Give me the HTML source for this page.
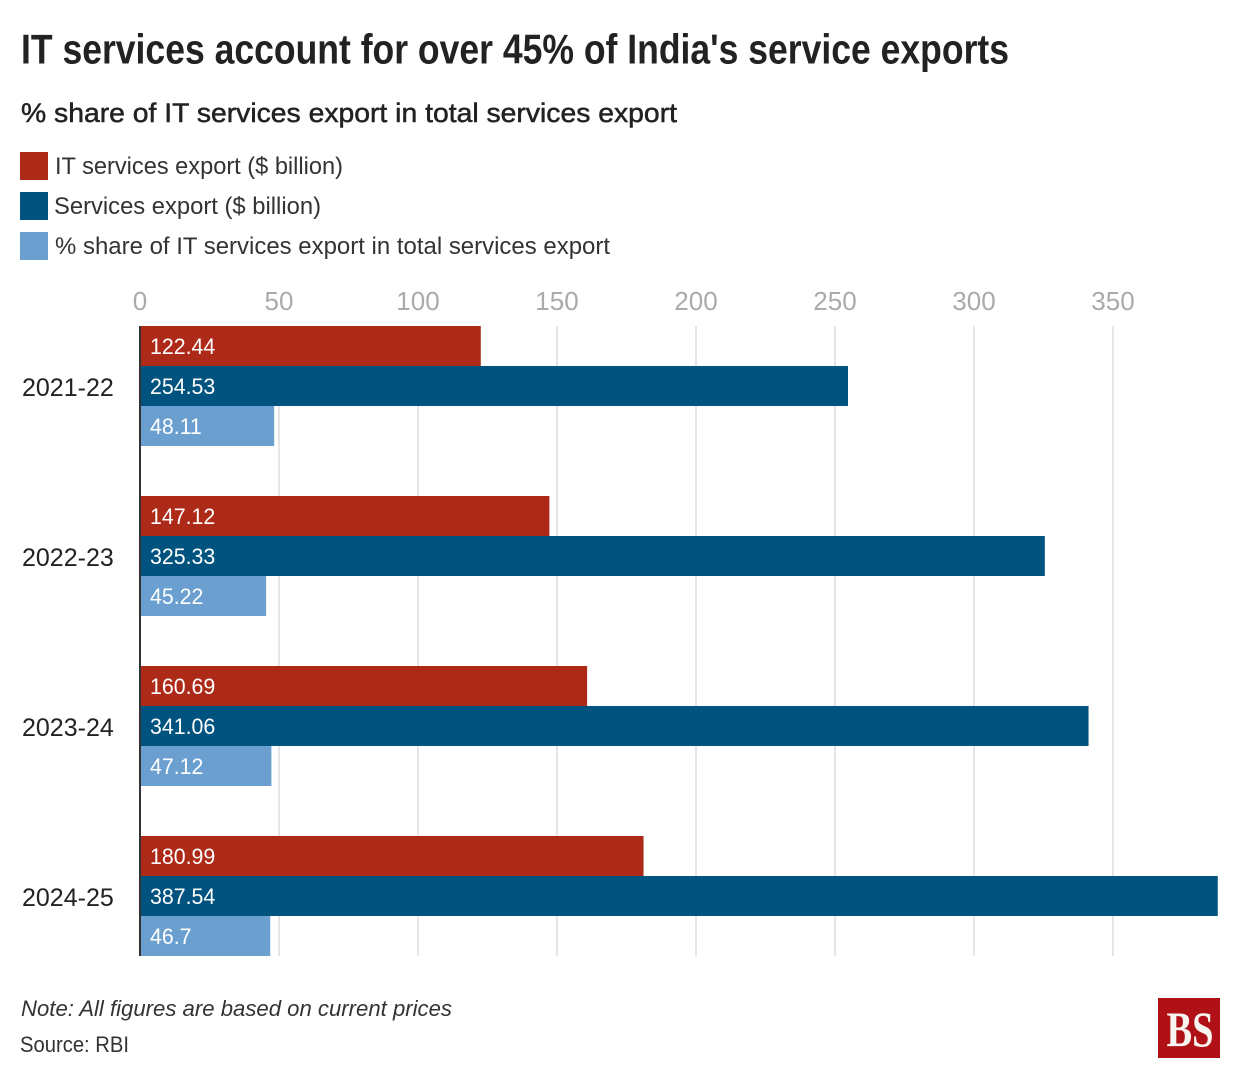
<!DOCTYPE html>
<html>
<head>
<meta charset="utf-8">
<title>IT services share of India's service exports</title>
<style>
html,body{margin:0;padding:0;background:#fff;}
svg{display:block;font-family:"Liberation Sans",sans-serif;}
</style>
</head>
<body>
<svg id="chart" width="1240" height="1080" viewBox="0 0 1240 1080" xmlns="http://www.w3.org/2000/svg">
  <rect x="0" y="0" width="1240" height="1080" fill="#ffffff"/>
  <text x="21" y="63.5" font-size="42" font-weight="700" fill="#222222" textLength="988" lengthAdjust="spacingAndGlyphs">IT services account for over 45% of India's service exports</text>
  <text x="21" y="122" font-size="27" fill="#222222" stroke="#222222" stroke-width="0.5" textLength="656" lengthAdjust="spacingAndGlyphs">% share of IT services export in total services export</text>

  <g>
    <rect x="20" y="152" width="28" height="28" fill="#ae2a18"/>
    <text x="55" y="174" font-size="24" fill="#333333" textLength="288" lengthAdjust="spacingAndGlyphs">IT services export ($ billion)</text>
    <rect x="20" y="192" width="28" height="28" fill="#00537f"/>
    <text x="54" y="214" font-size="24" fill="#333333" textLength="267" lengthAdjust="spacingAndGlyphs">Services export ($ billion)</text>
    <rect x="20" y="232" width="28" height="28" fill="#6a9fd0"/>
    <text x="55" y="254" font-size="24" fill="#333333" textLength="555" lengthAdjust="spacingAndGlyphs">% share of IT services export in total services export</text>
  </g>

  <g id="grid"></g>
  <g id="ticks"></g>
  <g id="bars"></g>
  <g id="cats"></g>
  <rect x="139" y="326" width="2" height="630" fill="#333333"/>

  <text x="21" y="1016" font-size="22" font-style="italic" fill="#333333" textLength="431" lengthAdjust="spacingAndGlyphs">Note: All figures are based on current prices</text>
  <text x="20" y="1052" font-size="22" fill="#333333" textLength="109" lengthAdjust="spacingAndGlyphs">Source: RBI</text>

  <g>
    <rect x="1158" y="998" width="62" height="60" fill="#b01116"/>
    <text x="1190" y="1046" font-family="'Liberation Serif',serif" font-size="50" font-weight="700" fill="#f8f4f0" text-anchor="middle" textLength="47" lengthAdjust="spacingAndGlyphs">BS</text>
  </g>
</svg>
<script>
const categories = ["2021-22", "2022-23", "2023-24", "2024-25"];
const itServices = [122.44, 147.12, 160.69, 180.99];
const servicesExport = [254.53, 325.33, 341.06, 387.54];
const itShare = [48.11, 45.22, 47.12, 46.7];
const tickValues = [0, 50, 100, 150, 200, 250, 300, 350];

const NS = "http://www.w3.org/2000/svg";
const plotLeft = 140.4;
const pxPerUnit = 2.78;
const plotTop = 326;
const plotBottom = 956;
const groupStep = 170;
const bandHeight = 40;

function xScale(v) { return plotLeft + v * pxPerUnit; }
function groupTop(i) { return plotTop + i * groupStep; }

const gridLayer = document.getElementById("grid");
const tickLayer = document.getElementById("ticks");
const barLayer = document.getElementById("bars");
const catLayer = document.getElementById("cats");

tickValues.forEach(function (t) {
  if (t !== 0) {
    const line = document.createElementNS(NS, "rect");
    
    
    line.setAttribute("x", xScale(t) - 1.4);
    line.setAttribute("y", plotTop);
    line.setAttribute("width", 2);
    line.setAttribute("height", plotBottom - plotTop);
    line.setAttribute("fill", "#e6e6e6");
    gridLayer.appendChild(line);
  }
  const label = document.createElementNS(NS, "text");
  
  
  label.setAttribute("x", xScale(t) - 0.4);
  label.setAttribute("y", 310);
  label.setAttribute("font-size", 26);
  label.setAttribute("fill", "#aaaaaa");
  label.setAttribute("text-anchor", "middle");
  label.textContent = String(t);
  tickLayer.appendChild(label);
});

function drawBar(value, i, band, color) {
  const top = groupTop(i) + band * bandHeight;
  const bar = document.createElementNS(NS, "rect");
  
  
  bar.setAttribute("x", plotLeft);
  bar.setAttribute("y", top);
  bar.setAttribute("width", xScale(value) - plotLeft);
  bar.setAttribute("height", bandHeight);
  bar.setAttribute("fill", color);
  barLayer.appendChild(bar);

  const text = document.createElementNS(NS, "text");
  
  
  text.setAttribute("x", 150);
  text.setAttribute("y", top + 28);
  text.setAttribute("font-size", 22);
  text.setAttribute("fill", "#ffffff");
  text.textContent = String(value);
  barLayer.appendChild(text);
  text.setAttribute("textLength", (text.getComputedTextLength() * 0.97).toFixed(1));
  text.setAttribute("lengthAdjust", "spacingAndGlyphs");
}

categories.forEach(function (c, i) {
  drawBar(itServices[i], i, 0, "#ae2a18");
  drawBar(servicesExport[i], i, 1, "#00537f");
  drawBar(itShare[i], i, 2, "#6a9fd0");

  const label = document.createElementNS(NS, "text");
  
  
  label.setAttribute("x", 22);
  label.setAttribute("y", groupTop(i) + 70);
  label.setAttribute("font-size", 25);
  label.setAttribute("fill", "#222222");
  label.textContent = c;
  catLayer.appendChild(label);
});
</script>
</body>
</html>
